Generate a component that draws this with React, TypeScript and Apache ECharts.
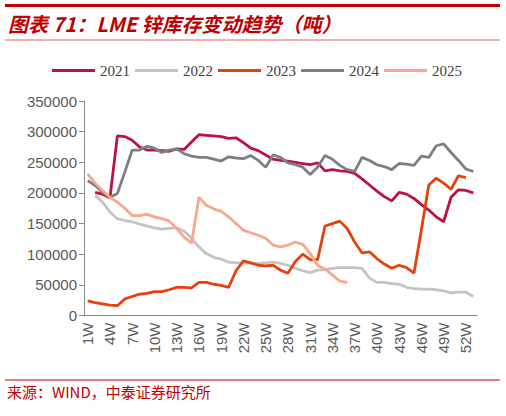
import { useEffect, useRef } from "react";
import * as echarts from "echarts";

const WEEKS = Array.from({ length: 53 }, (_, i) => `${i + 1}W`);
const YEARS = ["2021", "2022", "2023", "2024", "2025"];
const COLORS = ["#C0103F", "#C4C4C4", "#E8400C", "#7F7F7F", "#F9A68C"];

const S2021 = [
  null, 201000, 198000, 192000, 293000, 292000, 286000, 275000, 270000, 270000,
  269000, 268000, 272000, 271000, 283000, 295000, 294000, 293000, 292000, 289000,
  290000, 282000, 273000, 269000, 262000, 255000, 253000, 252000, 250000, 248000,
  246000, 249000, 236000, 238000, 236000, 235000, 232000, 223000, 213000, 203000,
  194000, 187000, 201000, 198000, 191000, 181000, 172000, 161000, 153000, 193000,
  205000, 204000, 200000,
];
const S2022 = [
  null, 196000, 185000, 169000, 158000, 155000, 153000, 149000, 146000, 143000,
  141000, 142000, 143000, 138000, 126000, 112000, 101000, 95000, 92000, 87000,
  86000, 86000, 85000, 85000, 86000, 87000, 85000, 82000, 77000, 73000,
  70000, 74000, 75000, 77000, 78000, 78000, 78000, 77000, 61000, 54000,
  54000, 52000, 51000, 46000, 44000, 43000, 43000, 42000, 40000, 37000,
  38000, 38000, 31000,
];
const S2023 = [
  24000, 21000, 19000, 17000, 16000, 27000, 31000, 35000, 36000, 39000,
  39000, 42000, 46000, 46000, 45000, 54000, 54000, 51000, 49000, 46000,
  73000, 89000, 86000, 82000, 81000, 82000, 74000, 69000, 88000, 100000,
  91000, 91000, 146000, 150000, 154000, 142000, 120000, 102000, 104000, 93000,
  84000, 77000, 82000, 78000, 69000, 140000, 213000, 224000, 216000, 206000,
  228000, 225000, null,
];
const S2024 = [
  220000, 212000, 201000, 193000, 199000, 234000, 270000, 270000, 276000, 273000,
  266000, 270000, 272000, 264000, 260000, 258000, 258000, 255000, 252000, 259000,
  257000, 256000, 261000, 253000, 242000, 262000, 258000, 249000, 246000, 242000,
  230000, 242000, 261000, 255000, 245000, 238000, 235000, 258000, 253000, 246000,
  243000, 238000, 248000, 247000, 245000, 260000, 258000, 277000, 280000, 266000,
  253000, 239000, 235000,
];
const S2025 = [
  231000, 216000, 204000, 193000, 185000, 175000, 163000, 163000, 165000, 161000,
  158000, 154000, 142000, 128000, 118000, 193000, 180000, 174000, 170000, 161000,
  150000, 139000, 135000, 131000, 126000, 115000, 112000, 115000, 120000, 116000,
  101000, 82000, 76000, 66000, 56000, 54000,
];

const SERIES = [S2021, S2022, S2023, S2024, S2025];

export default function App() {
  const ref = useRef<HTMLDivElement>(null);
  useEffect(() => {
    if (!ref.current) return;
    const chart = echarts.init(ref.current, null, { renderer: "svg" });
    const option: echarts.EChartsOption = {
      animation: false,
      backgroundColor: "#fff",
      graphic: [
        { type: "rect", shape: { x: 5, y: 4, width: 495, height: 3 }, style: { fill: "#C00000" } },
        {
          type: "text",
          x: 8,
          y: 23,
          style: {
            text: "图表 71：LME 锌库存变动趋势（吨）",
            fontSize: 20,
            fontWeight: "bold",
            fontStyle: "italic",
            fontFamily: '"Noto Sans CJK SC"',
            fill: "#C00000",
            verticalAlign: "middle",
          },
        },
        { type: "rect", shape: { x: 5, y: 39.5, width: 495, height: 1 }, style: { fill: "#E06666" } },
        { type: "rect", shape: { x: 5, y: 379.5, width: 495, height: 1 }, style: { fill: "#D00000" } },
        {
          type: "text",
          x: 7,
          y: 391,
          style: {
            text: "来源：WIND，中泰证券研究所",
            fontSize: 15,
            fontFamily: '"Noto Sans CJK SC"',
            fill: "#C00000",
            verticalAlign: "middle",
          },
        },
      ],
      legend: {
        left: 47,
        top: 58,
        icon: "rect",
        itemWidth: 43,
        itemHeight: 3,
        itemGap: 5,
        textStyle: { fontFamily: '"Liberation Serif"', fontSize: 15, color: "#404040" },
        data: YEARS,
      },
      grid: { left: 84, right: 29, top: 101, bottom: 100.5 },
      xAxis: {
        type: "category",
        data: WEEKS,
        boundaryGap: true,
        axisLine: { lineStyle: { color: "#888", width: 1 } },
        axisTick: { interval: 0, length: 5, lineStyle: { color: "#888" } },
        axisLabel: {
          interval: 2,
          rotate: 90,
          margin: 7,
          fontFamily: '"Liberation Sans"',
          fontSize: 15,
          color: "#595959",
        },
      },
      yAxis: {
        type: "value",
        min: 0,
        max: 350000,
        interval: 50000,
        splitLine: { show: false },
        axisLine: { show: true, lineStyle: { color: "#888", width: 1 } },
        axisTick: { show: true, length: 5, lineStyle: { color: "#888" } },
        axisLabel: {
          fontFamily: '"Liberation Sans"',
          fontSize: 15,
          color: "#595959",
          margin: 7,
          formatter: (v: number) => String(v),
        },
      },
      series: YEARS.map((y, i) => ({
        name: y,
        type: "line",
        data: SERIES[i],
        showSymbol: false,
        symbol: "none",
        connectNulls: false,
        color: COLORS[i],
        lineStyle: { width: 2.8, color: COLORS[i] },
        z: i === 4 ? 3 : 2,
      })),
    };
    chart.setOption(option);
    return () => chart.dispose();
  }, []);
  return (
    <div
      ref={ref}
      style={{ position: "absolute", left: 0, top: 0, width: 506, height: 416 }}
    />
  );
}
